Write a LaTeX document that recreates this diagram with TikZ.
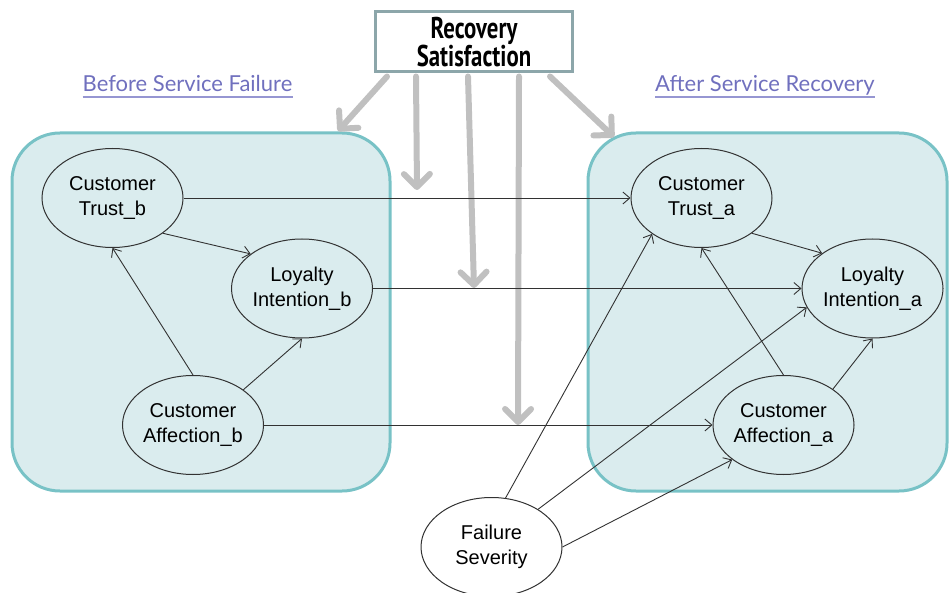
\documentclass[tikz,border=0pt]{standalone}
\usepackage{fontspec}
\setmainfont{Liberation Sans}
\newfontfamily\labelfont{Lato}
\newfontfamily\condfont{PT Sans}[FakeStretch=0.76]
\usetikzlibrary{arrows.meta,shapes.geometric}

\definecolor{panelfill}{RGB}{218,236,238}
\definecolor{panelline}{RGB}{120,194,198}
\definecolor{rsline}{RGB}{140,166,170}
\definecolor{satgray}{RGB}{192,192,192}
\definecolor{edgegray}{RGB}{50,50,50}
\definecolor{headblue}{RGB}{112,112,190}
\definecolor{ulineblue}{RGB}{150,150,210}

\tikzset{
  panel/.style={draw=panelline, line width=3pt, fill=panelfill, rounded corners=48pt},
  construct/.style={ellipse, draw=edgegray, line width=1pt, minimum width=141pt,
    minimum height=99pt, inner sep=0pt, align=center,
    font=\fontsize{20}{24.5}\selectfont},
  link/.style={draw=edgegray, line width=0.9pt,
    -{Straight Barb[length=7pt, width=12pt, line width=0.9pt]}},
  satarrow/.style={draw=satgray, line width=6pt, line cap=round,
    -{Straight Barb[length=13pt, width=26pt, line width=6pt, round]}},
  heading/.style={text=headblue, inner sep=0pt, font=\labelfont\fontsize{22}{26}\selectfont},
  uline/.style={draw=ulineblue, line width=1.8pt}
}

\begin{document}
\begin{tikzpicture}[x=1pt, y=-1pt]
\useasboundingbox (0,0) rectangle (949,593);

% the two time panels
\draw[panel] (12,133) rectangle (390,491);
\draw[panel] (588,133) rectangle (947,491);

% headings with their underlines
\node[heading, anchor=base] (hbefore) at (187.5,92) {Before Service Failure};
\draw[uline] ([yshift=-5pt]hbefore.base west) -- ([yshift=-5pt]hbefore.base east);
\node[heading, anchor=base west] (hafter) at (655,92) {After Service Recovery\ };
\draw[uline] ([yshift=-5pt]hafter.base west) -- ([yshift=-5pt]hafter.base east);

% moderator box
\node[draw=rsline, line width=3pt, fill=white, minimum width=197pt, minimum height=60pt,
      inner sep=0pt, align=center, font=\condfont\bfseries\fontsize{30}{28}\selectfont]
      (rs) at (474,42) {Recovery\\Satisfaction};

% moderating arrows
\coordinate (m1) at (338,131);
\coordinate (m2) at (417,190);
\coordinate (m3) at (474,288);
\coordinate (m4) at (518,425);
\coordinate (m5) at (614,137);
\draw[satarrow] ([xshift=13pt,yshift=-3pt]rs.south west) -- (m1);
\draw[satarrow] ([xshift=42pt,yshift=-3pt]rs.south west) -- (m2);
\draw[satarrow] ([xshift=94pt,yshift=-3pt]rs.south west) -- (m3);
\draw[satarrow] ([xshift=145pt,yshift=-3pt]rs.south west) -- (m4);
\draw[satarrow] ([xshift=-24pt,yshift=-3pt]rs.south east) -- (m5);

% constructs before failure
\node[construct] (tb) at (112.5,198) {Customer\\Trust\_b};
\node[construct] (lb) at (302,288.5) {Loyalty\\Intention\_b};
\node[construct] (ab) at (193,425) {Customer\\Affection\_b};

% constructs after recovery
\node[construct] (ta) at (701.5,198) {Customer\\Trust\_a};
\node[construct] (la) at (872.5,288.5) {Loyalty\\Intention\_a};
\node[construct] (aa) at (783.5,425) {Customer\\Affection\_a};

% failure severity
\node[construct, fill=white] (fs) at (491.5,547) {Failure\\Severity};

% paths within the panels
\draw[link] (tb.325) -- (lb.146);
\draw[link] (ab.90) -- (tb.270);
\draw[link] (ab.35) -- (lb.270);
\draw[link] (ta.325) -- (la.145);
\draw[link] (aa.90) -- (ta.270);
\draw[link] (aa.36) -- (la.270);

% carry-over paths
\draw[link] (tb.east) -- (ta.west);
\draw[link] (lb.east) -- (la.west);
\draw[link] (ab.east) -- (aa.west);

% effects of failure severity
\draw[link] (fs.74) -- (ta.216);
\draw[link] (fs.39) -- (la.196);
\draw[link] (fs.0) -- (aa.214);
\end{tikzpicture}
\end{document}
